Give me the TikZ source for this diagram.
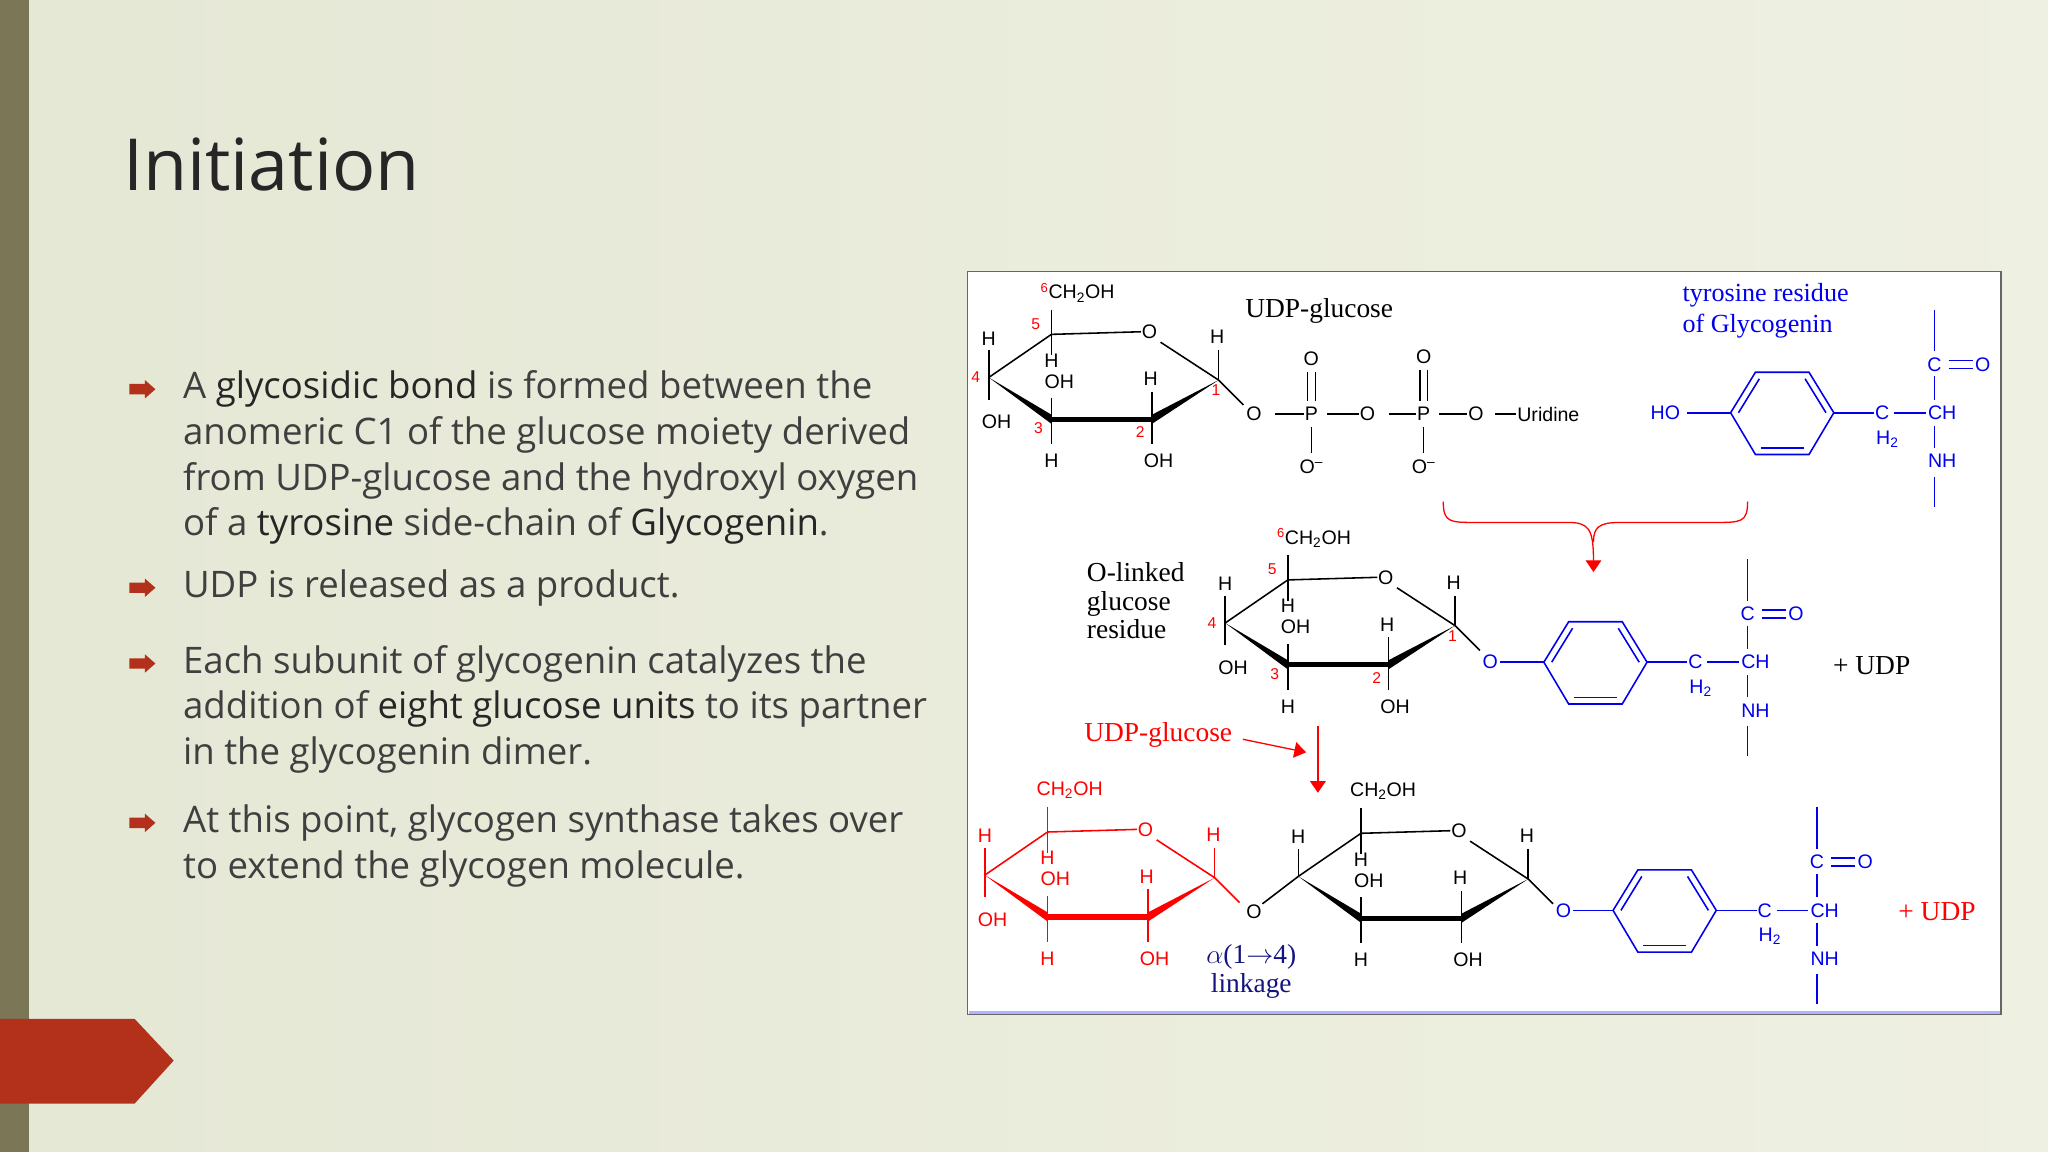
\documentclass[tikz,border=0pt]{standalone}
\usepackage{fontspec}
\setmainfont{Open Sans}
\setsansfont{Liberation Sans}
\newfontfamily\ser{Liberation Serif}
\usetikzlibrary{arrows.meta,calc}
\definecolor{bg}{HTML}{E9EBD7}
\definecolor{barc}{HTML}{7A7656}
\definecolor{accent}{HTML}{B3301B}
\definecolor{txt}{HTML}{3F3F3F}
\definecolor{tblue}{HTML}{0000EE}
\definecolor{navy}{HTML}{141480}
\definecolor{rnum}{HTML}{FF0000}
\tikzset{
  lab/.style={font=\sffamily\fontsize{15}{15}\selectfont, inner sep=0.5pt},
  num/.style={font=\sffamily\fontsize{12}{12}\selectfont, text=rnum, inner sep=0pt},
  sl/.style={font=\ser\fontsize{21}{22}\selectfont, inner sep=0pt},
  btxt/.style={anchor=west, font=\fontsize{28}{30}\selectfont, text=txt, inner sep=0pt},
  bond/.style={line width=1.2pt},
  thick bond/.style={line width=4pt},
}
\newcommand{\bul}[1]{\fill[accent] (99,#1-4) -- (111,#1-4) -- (111,#1-7) -- (119,#1) -- (111,#1+7) -- (111,#1+4) -- (99,#1+4) -- cycle;}
\newcommand{\emw}[1]{\textcolor{black!85}{#1}}
% ring: shift x, shift y, colour, numbered (1/0), OH on C4 (1/0)
\newcommand{\gring}[5]{%
\begin{scope}[shift={(#1,#2)}, draw=#3, text=#3, fill=#3]
 \coordinate (c4) at (757,289); \coordinate (c5) at (805,256); \coordinate (c1) at (933,291);
 \coordinate (c2) at (882,321); \coordinate (c3) at (805,321);
 \node[lab] (ro) at (880,254) {O};
 \draw[bond] (c4) -- (c5) -- (ro.west);
 \draw[bond] (ro.south east) ++(2,2) -- (c1);
 \fill (c1) -- ($(c2)+(0,-3.5)$) -- ($(c2)+(0,3.5)$) -- cycle;
 \fill (c4) -- ($(c3)+(0,-3.5)$) -- ($(c3)+(0,3.5)$) -- cycle;
 \draw[thick bond] (c3) -- (c2);
 \node[lab] at (757,259) {H};
 \ifnum#5=1
  \draw[bond] (757,268) -- (757,306); \node[lab] at (763,323) {OH};
 \else
  \draw[bond] (757,268) -- (757,289);
 \fi
 \draw[bond] (805,237) -- (805,272);
 \node[lab] at (805,276) {H};
 \node[lab, anchor=west] at (796,224) {\ifnum#4=1\textcolor{rnum}{\textsuperscript{\fontsize{10}{10}\selectfont 6}}\fi CH\textsubscript{2}OH};
 \draw[bond] (805,305) -- (805,340); \node[lab] at (811,292) {OH}; \node[lab] at (805,353) {H};
 \draw[bond] (882,300) -- (882,340); \node[lab] at (881,290) {H}; \node[lab] at (887,353) {OH};
 \draw[bond] (933,268) -- (933,291); \node[lab] at (932,258) {H};
 \draw[bond] (c1) -- (952,310);
 \ifnum#4=1
  \node[num] at (747,289) {4}; \node[num] at (793,248) {5}; \node[num] at (931,299) {1};
  \node[num] at (873,331) {2}; \node[num] at (795,328) {3};
 \fi
\end{scope}}
\newcommand{\tyr}[2]{%
\begin{scope}[shift={(#1,#2)}, draw=tblue, text=tblue]
 \coordinate (bl) at (1325,316); \coordinate (br) at (1404,316);
 \coordinate (btl) at (1344,285); \coordinate (btr) at (1385,285);
 \coordinate (bbl) at (1344,348); \coordinate (bbr) at (1385,348);
 \draw[bond] (bl) -- (btl) -- (btr) -- (br) -- (bbr) -- (bbl) -- cycle;
 \draw[bond] (1331,316) -- (1347,290); \draw[bond] (1382,290) -- (1398,316); \draw[bond] (1348,343) -- (1381,343);
 \node[lab] (cc) at (1441,316) {C}; \node[lab] at (1445,336) {H\textsubscript{2}};
 \node[lab] (ch) at (1487,316) {CH};
 \node[lab] (co) at (1481,279) {C}; \node[lab] (oo) at (1518,279) {O};
 \node[lab] (nh) at (1487,353) {NH};
 \draw[bond] (br) -- (cc.west);
 \draw[bond] (cc.east) ++(3,0) -- ($(ch.west)+(-1,0)$);
 \draw[bond] (co.north) ++(0,-4) -- (1481,237);
 \draw[bond] (co.south) ++(0,3) -- (1481,306);
 \draw[bond] (1481,326) -- (1481,343);
 \draw[bond] (1481,365) -- (1481,388);
 \draw[bond] ($(co.east)+(5,-3)$) -- ($(oo.west)+(-1,-3)$);
 \draw[bond] ($(co.east)+(5,3)$) -- ($(oo.west)+(-1,3)$);
\end{scope}}
\begin{document}
\begin{tikzpicture}[x=1pt,y=-1pt]
\useasboundingbox (0,0) rectangle (1568,882);
\shade[left color=bg!96!black, right color=bg!60!white] (0,0) rectangle (1568,882);
\fill[bg!85!white, opacity=0.5] (0,0) rectangle (1568,882);
\fill[barc] (0,0) rectangle (22,882);
\fill[accent] (0,780) -- (103,780) -- (133,812) -- (103,845) -- (0,845) -- cycle;
\node[anchor=west, inner sep=0, font=\fontsize{55}{60}\selectfont, text=black!85] (title) at (94,126) {Initiation};
\bul{298}\bul{450}\bul{508}\bul{630}
\node[btxt] (b1) at (140,298) {A \emw{glycosidic bond} is formed between the};
\node[btxt] (b2) at (140,333) {anomeric C1 of the glucose moiety derived};
\node[btxt] (b3) at (140,368) {from UDP-glucose and the hydroxyl oxygen};
\node[btxt] (b4) at (140,403) {of a \emw{tyrosine} side-chain of \emw{Glycogenin}.};
\node[btxt] (b5) at (140,450) {UDP is released as a product.};
\node[btxt] (b6) at (140,508) {Each subunit of glycogenin catalyzes the};
\node[btxt] (b7) at (140,543) {addition of \emw{eight glucose units} to its partner};
\node[btxt] (b8) at (140,578) {in the glycogenin dimer.};
\node[btxt] (b9) at (140,630) {At this point, glycogen synthase takes over};
\node[btxt] (b10) at (140,665) {to extend the glycogen molecule.};
\draw[fill=white, draw=black!60, line width=0.8pt] (741,208) rectangle (1532,777);
\draw[line width=2pt, draw=blue!30] (742,775) -- (1531,775);
\gring{0}{0}{black}{1}{1}
\node[sl] (udpg) at (1010,238) {UDP-glucose};
\node[lab] (og) at (960,317) {O};
\node[lab] (p1) at (1004,317) {P};
\node[lab] (p1o) at (1004,275) {O};
\node[lab] (p1m) at (1004,357) {O\textsuperscript{--}};
\node[lab] (o2) at (1047,317) {O};
\node[lab] (p2) at (1090,317) {P};
\node[lab] (p2o) at (1090,273) {O};
\node[lab] (p2m) at (1090,357) {O\textsuperscript{--}};
\node[lab] (o3) at (1130,317) {O};
\node[lab,anchor=west] (uri) at (1161,317) {Uridine};
\draw[bond] (og.east) ++(10,0) -- (p1.west);
\draw[bond] (p1.east) ++(6,0) -- (o2.west);
\draw[bond] (o2.east) ++(10,0) -- (p2.west);
\draw[bond] (p2.east) ++(6,0) -- (o3.west);
\draw[bond] (o3.east) ++(8,0) -- (uri.west);
\draw[bond] (1001,285) -- (1001,307); \draw[bond] (1007,285) -- (1007,307);
\draw[bond] (1087,283) -- (1087,307); \draw[bond] (1093,283) -- (1093,307);
\draw[bond] (1004,327) -- (1004,347); \draw[bond] (1090,327) -- (1090,347);
\node[sl, text=tblue, align=left, anchor=west, font=\ser\fontsize{20}{24}\selectfont] (tyrl) at (1288,238) {tyrosine residue\\of Glycogenin};
\node[lab, text=tblue] (ho) at (1275,316) {HO};
\tyr{0}{0}
\draw[bond, tblue] (ho.east) ++(5,0) -- (1325,316);
\draw[red, line width=1pt, -{Triangle[length=9pt,width=12pt]}] (1105,384) .. controls (1105,400) and (1110,400) .. (1130,400) -- (1200,400) .. controls (1216,400) and (1220,404) .. (1220,438);
\draw[red, line width=1pt] (1338,384) .. controls (1338,400) and (1333,400) .. (1313,400) -- (1240,400) .. controls (1224,400) and (1220,404) .. (1220,415);
\node[sl, align=left, anchor=west] (olink) at (832,460) {O-linked\\glucose\\residue};
\gring{181}{188}{black}{1}{1}
\node[lab, text=tblue] (og2) at (1141,507) {O};
\tyr{-143}{191}
\draw[bond, tblue] (og2.east) ++(1,0) -- (1182,507);
\node[sl] (udp1) at (1433,510) {+ UDP};
\node[sl, text=red, anchor=west] (udpg2) at (830,563) {UDP-glucose};
\draw[red, line width=1pt, -{Triangle[length=9pt,width=12pt]}] (udpg2.east) ++(8,3) -- (1000,576);
\draw[red, line width=1.3pt, -{Triangle[length=9pt,width=12pt]}] (1009,556) -- (1009,607);
\gring{-3}{381}{red}{0}{1}
\gring{237}{382}{black}{0}{0}
\node[lab] (og3) at (960,698) {O};
\draw[bond] (og3.north east) -- (994,671);
\node[lab, text=tblue] (og4) at (1197,697) {O};
\tyr{-90}{381}
\draw[bond, tblue] (og4.east) ++(1,0) -- (1235,697);
\node[sl, text=red] (udp2) at (1483,698) {+ UDP};
\node[sl, text=navy, align=center] (link) at (958,744) {$\alpha$(1$\rightarrow$4)\\linkage};
\end{tikzpicture}
\end{document}
